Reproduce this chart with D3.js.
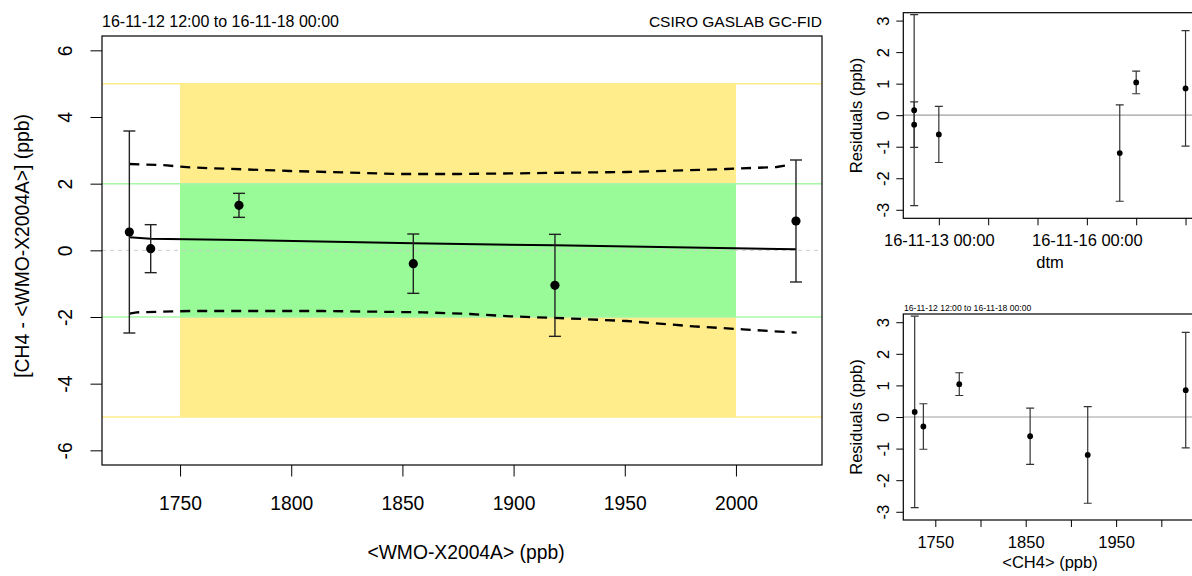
<!DOCTYPE html>
<html>
<head>
<meta charset="utf-8">
<script src="https://cdn.jsdelivr.net/npm/d3@7"></script>
<style>
  html, body { margin: 0; padding: 0; background: #fff; }
  svg { display: block; font-family: "Liberation Sans", Arial, Helvetica, sans-serif; }
</style>
</head>
<body>
<svg id="chart" width="1192" height="576"></svg>
<script>
// ---- data -------------------------------------------------------------
// Reference scale value of each cylinder (ppb) and measured difference
const refValues   = [1727.2, 1736.8, 1776.5, 1854.9, 1918.6, 2027.0];
const diffValues  = [0.55, 0.05, 1.35, -0.40, -1.05, 0.88];
const uncertainty = [3.03, 0.72, 0.36, 0.89, 1.53, 1.83];
// Fitted difference at each reference value, and the residuals from it
const fitValues   = [0.39, 0.35, 0.31, 0.21, 0.15, 0.03];
const residuals   = [0.16, -0.30, 1.04, -0.61, -1.20, 0.85];
// Measurement time of each cylinder
const sampleTimes = ["2016-11-12T12:00Z", "2016-11-12T12:00Z", "2016-11-17T00:00Z",
                     "2016-11-13T00:00Z", "2016-11-16T16:00Z", "2016-11-18T00:00Z"];

// Confidence envelope of the fit
const upperBandX = [1727.2, 1744.0, 1750.0, 1757.5, 1799.5, 1848.9, 1875.9, 1950.8, 1995.8, 2018.3, 2022.9];
const upperBandY = [2.59, 2.55, 2.51, 2.48, 2.38, 2.29, 2.29, 2.35, 2.44, 2.50, 2.55];
const lowerBandX = [1727.2, 1730.5, 1754.5, 1814.3, 1859.3, 1880.4, 1898.4, 1923.9, 1950.8, 1980.8, 2003.1, 2027.3];
const lowerBandY = [-1.90, -1.86, -1.82, -1.82, -1.86, -1.91, -1.98, -2.04, -2.12, -2.28, -2.37, -2.47];

// Compatibility goals
const goalRange   = [1750, 2000];
const outerLimits = [-5, 5];
const innerLimits = [-2, 2];

// Axis ticks
const refTicks       = [1750, 1800, 1850, 1900, 1950, 2000];
const diffTicks      = [-6, -4, -2, 0, 2, 4, 6];
const residTicks     = [-3, -2, -1, 0, 1, 2, 3];
const ch4Ticks       = [1750, 1800, 1850, 1900, 1950, 2000];
const ch4TickLabels  = ["1750", "", "1850", "", "1950", ""];
const dateTicks      = ["2016-11-13T00:00Z", "2016-11-14T00:00Z", "2016-11-15T00:00Z",
                        "2016-11-16T00:00Z", "2016-11-17T00:00Z", "2016-11-18T00:00Z"];
const dateTickLabels = ["16-11-13 00:00", "", "", "16-11-16 00:00", "", ""];

const periodText = "16-11-12 12:00 to 16-11-18 00:00";
const labText = "CSIRO GASLAB GC-FID";

// ---- helpers ------------------------------------------------------------
const svg = d3.select("#chart");
const points = refValues.map((r, i) => ({
  ref: r, diff: diffValues[i], u: uncertainty[i], fit: fitValues[i],
  resid: residuals[i], time: new Date(sampleTimes[i])
}));
const plainNumber = d => String(d);   // keeps the ASCII hyphen as minus sign

let clipId = 0;
function makeClip(x0, y0, x1, y1) {
  const id = "clip" + (clipId++);
  svg.append("clipPath").attr("id", id)
    .append("rect").attr("x", x0).attr("y", y0).attr("width", x1 - x0).attr("height", y1 - y0);
  return "url(#" + id + ")";
}

function errorBars(g, data, xf, yc, cap, color, width) {
  const eb = g.append("g").attr("stroke", color).attr("stroke-width", width).attr("fill", "none");
  data.forEach(d => {
    const xx = xf(d);
    const [lo, hi] = yc(d);
    eb.append("line").attr("x1", xx).attr("x2", xx).attr("y1", lo).attr("y2", hi);
    eb.append("line").attr("x1", xx - cap).attr("x2", xx + cap).attr("y1", lo).attr("y2", lo);
    eb.append("line").attr("x1", xx - cap).attr("x2", xx + cap).attr("y1", hi).attr("y2", hi);
  });
}

// Left axis with labels drawn parallel to the axis (reading upwards)
function leftAxis(scale, ticks, xPos, tickLen, labelOffset, fontSize) {
  const g = svg.append("g").attr("transform", `translate(${xPos},0)`)
    .call(d3.axisLeft(scale).tickValues(ticks).tickSize(tickLen).tickFormat(plainNumber));
  g.select(".domain").remove();
  g.selectAll(".tick line").attr("stroke", "#000");
  g.selectAll(".tick text")
    .attr("x", null).attr("dy", null)
    .attr("transform", `translate(${-labelOffset},0) rotate(-90)`)
    .attr("text-anchor", "middle")
    .attr("fill", "#000")
    .style("font-size", fontSize + "px")
    .style("font-family", "Liberation Sans, Arial, sans-serif");
  return g;
}

function bottomAxis(scale, ticks, yPos, tickLen, labelY, fontSize, fmt) {
  const g = svg.append("g").attr("transform", `translate(0,${yPos})`)
    .call(d3.axisBottom(scale).tickValues(ticks).tickSize(tickLen).tickFormat(fmt));
  g.select(".domain").remove();
  g.selectAll(".tick line").attr("stroke", "#000");
  g.selectAll(".tick text")
    .attr("y", labelY).attr("dy", null)
    .attr("fill", "#000")
    .style("font-size", fontSize + "px")
    .style("font-family", "Liberation Sans, Arial, sans-serif");
  return g;
}

function box(x0, y0, x1, y1) {
  svg.append("rect").attr("x", x0).attr("y", y0).attr("width", x1 - x0).attr("height", y1 - y0)
    .attr("fill", "none").attr("stroke", "#000").attr("stroke-width", 1.2);
}

// ---- main panel: difference vs reference value ---------------------------
const M = { l: 102, r: 822, t: 36, b: 465 };
const x = d3.scaleLinear().domain([1714.9, 2038.7]).range([M.l, M.r]);
const y = d3.scaleLinear().domain([-6.44, 6.43]).range([M.b, M.t]);

const mainPanel = svg.append("g").attr("clip-path", makeClip(M.l, M.t, M.r, M.b));

mainPanel.append("rect")
  .attr("x", x(goalRange[0])).attr("width", x(goalRange[1]) - x(goalRange[0]))
  .attr("y", y(outerLimits[1])).attr("height", y(outerLimits[0]) - y(outerLimits[1]))
  .attr("fill", "#FFEC8B");
mainPanel.append("rect")
  .attr("x", x(goalRange[0])).attr("width", x(goalRange[1]) - x(goalRange[0]))
  .attr("y", y(innerLimits[1])).attr("height", y(innerLimits[0]) - y(innerLimits[1]))
  .attr("fill", "#98FB98");

outerLimits.forEach(v => mainPanel.append("line")
  .attr("x1", M.l).attr("x2", M.r).attr("y1", y(v)).attr("y2", y(v))
  .attr("stroke", "#FFEC8B").attr("stroke-width", 1.5));
innerLimits.forEach(v => mainPanel.append("line")
  .attr("x1", M.l).attr("x2", M.r).attr("y1", y(v)).attr("y2", y(v))
  .attr("stroke", "#A8F7A8").attr("stroke-width", 1.5));
mainPanel.append("line")
  .attr("x1", M.l).attr("x2", M.r).attr("y1", y(0)).attr("y2", y(0))
  .attr("stroke", "#cccccc").attr("stroke-width", 1).attr("stroke-dasharray", "4,4");

const line = d3.line().x(d => x(d[0])).y(d => y(d[1]));
mainPanel.append("path").datum(d3.zip(upperBandX, upperBandY)).attr("d", line)
  .attr("fill", "none").attr("stroke", "#000").attr("stroke-width", 2.3).attr("stroke-dasharray", "10,7");
mainPanel.append("path").datum(d3.zip(lowerBandX, lowerBandY)).attr("d", line)
  .attr("fill", "none").attr("stroke", "#000").attr("stroke-width", 2.3).attr("stroke-dasharray", "10,7");
mainPanel.append("path").datum(points.map(d => [d.ref, d.fit])).attr("d", line)
  .attr("fill", "none").attr("stroke", "#000").attr("stroke-width", 2);

errorBars(mainPanel, points, d => x(d.ref), d => [y(d.diff - d.u), y(d.diff + d.u)], 6, "#222", 1.4);
mainPanel.selectAll("circle.pt").data(points).join("circle")
  .attr("cx", d => x(d.ref)).attr("cy", d => y(d.diff)).attr("r", 4.6).attr("fill", "#000");

box(M.l, M.t, M.r, M.b);
leftAxis(y, diffTicks, M.l, 11.5, 30, 19.3);
bottomAxis(x, refTicks, M.b, 11.5, 45, 19.3, plainNumber);

svg.append("text")
  .attr("transform", "translate(29,246) rotate(-90)")
  .attr("text-anchor", "middle")
  .style("font-size", "19.3px").text("[CH4 - <WMO-X2004A>] (ppb)");
svg.append("text").attr("x", 466).attr("y", 559).attr("text-anchor", "middle")
  .style("font-size", "19.3px").text("<WMO-X2004A> (ppb)");
svg.append("text").attr("x", M.l).attr("y", 27).style("font-size", "16px").text(periodText);
svg.append("text").attr("x", M.r).attr("y", 27).attr("text-anchor", "end")
  .style("font-size", "15.5px").text(labText);

// ---- top right panel: residuals vs time ---------------------------------
const T = { l: 903.3, r: 1196.4, t: 12.7, b: 218.3 };
const xt = d3.scaleUtc()
  .domain([new Date("2016-11-12T06:43Z"), new Date("2016-11-18T05:17Z")]).range([T.l, T.r]);
const yt = d3.scaleLinear().domain([-3.27, 3.25]).range([T.b, T.t]);

const timePanel = svg.append("g").attr("clip-path", makeClip(T.l, T.t, T.r, T.b));
timePanel.append("line").attr("x1", T.l).attr("x2", T.r).attr("y1", yt(0)).attr("y2", yt(0))
  .attr("stroke", "#a0a0a0").attr("stroke-width", 1.2);
errorBars(timePanel, points, d => xt(d.time), d => [yt(d.resid - d.u), yt(d.resid + d.u)], 4, "#333", 1.2);
timePanel.selectAll("circle").data(points).join("circle")
  .attr("cx", d => xt(d.time)).attr("cy", d => yt(d.resid)).attr("r", 2.9).attr("fill", "#000");
box(T.l, T.t, T.r, T.b);
leftAxis(yt, residTicks, T.l, 7, 14.5, 16.5);
const dateTickDates = dateTicks.map(s => new Date(s));
bottomAxis(xt, dateTickDates, T.b, 7, 28, 16.5,
  d => dateTickLabels[dateTickDates.findIndex(t => +t === +d)]);
svg.append("text").attr("transform", "translate(862,115.5) rotate(-90)")
  .attr("text-anchor", "middle").style("font-size", "16.5px").text("Residuals (ppb)");
svg.append("text").attr("x", 1050).attr("y", 268).attr("text-anchor", "middle")
  .style("font-size", "16.5px").text("dtm");

// ---- bottom right panel: residuals vs CH4 -------------------------------
const B = { l: 903.3, r: 1196.3, t: 314, b: 520 };
const xb = d3.scaleLinear().domain([1714.6, 2038.7]).range([B.l, B.r]);
const yb = d3.scaleLinear().domain([-3.26, 3.26]).range([B.b, B.t]);

const ch4Panel = svg.append("g").attr("clip-path", makeClip(B.l, B.t, B.r, B.b));
ch4Panel.append("line").attr("x1", B.l).attr("x2", B.r).attr("y1", yb(0)).attr("y2", yb(0))
  .attr("stroke", "#a0a0a0").attr("stroke-width", 1.2);
errorBars(ch4Panel, points, d => xb(d.ref), d => [yb(d.resid - d.u), yb(d.resid + d.u)], 4, "#333", 1.2);
ch4Panel.selectAll("circle").data(points).join("circle")
  .attr("cx", d => xb(d.ref)).attr("cy", d => yb(d.resid)).attr("r", 2.9).attr("fill", "#000");
box(B.l, B.t, B.r, B.b);
leftAxis(yb, residTicks, B.l, 7, 14.5, 16.5);
bottomAxis(xb, ch4Ticks, B.b, 7, 28, 16.5, d => ch4TickLabels[ch4Ticks.indexOf(d)]);
svg.append("text").attr("transform", "translate(862,417) rotate(-90)")
  .attr("text-anchor", "middle").style("font-size", "16.5px").text("Residuals (ppb)");
svg.append("text").attr("x", 1050).attr("y", 568).attr("text-anchor", "middle")
  .style("font-size", "16.5px").text("<CH4> (ppb)");
svg.append("text").attr("x", 904).attr("y", 311).style("font-size", "8.6px").text(periodText);
</script>
</body>
</html>
